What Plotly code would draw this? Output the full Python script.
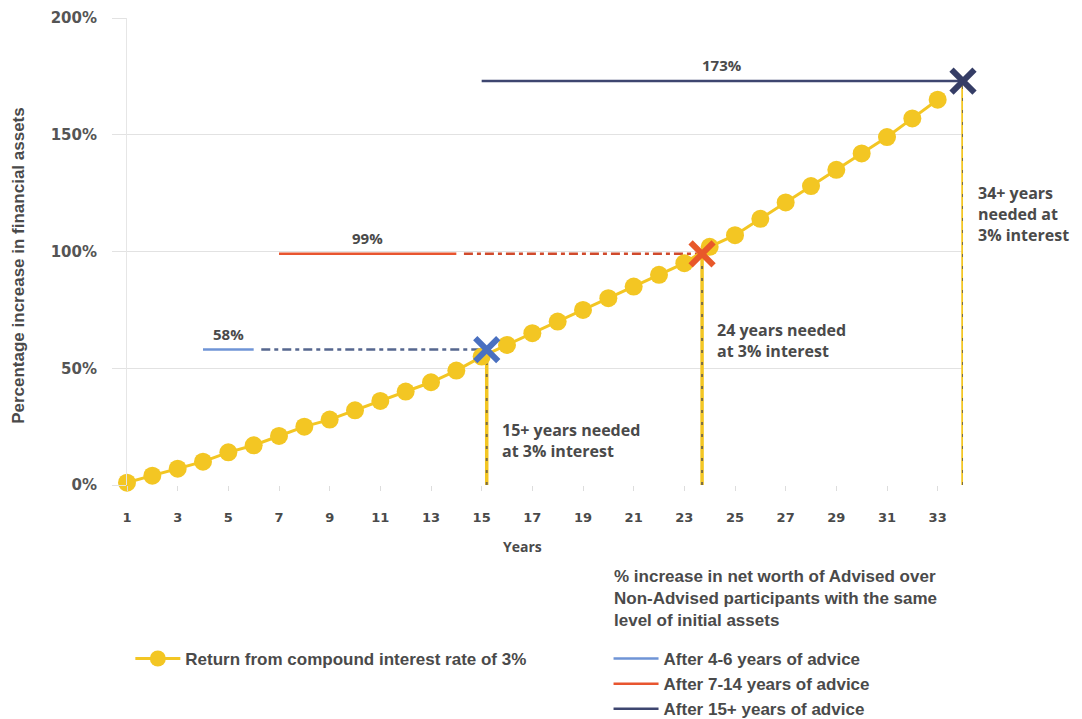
import plotly.graph_objects as go

# ---------------- data ----------------
years = list(range(1, 34))
compound_return = [1, 4, 7, 10, 14, 17, 21, 25, 28, 32, 36, 40, 44, 49, 55,
                   60, 65, 70, 75, 80, 85, 90, 95, 102, 107, 114, 121, 128,
                   135, 142, 149, 157, 165]

advice_labels = ["After 4-6 years of advice", "After 7-14 years of advice",
                 "After 15+ years of advice"]
advice_pct = [58, 99, 173]
advice_from = [4, 7, 15]
advice_to = [6, 14, 34]
years_needed_x = [15.2, 23.7, 34]
needed_text = ["15+ years needed<br>at 3% interest",
               "24 years needed<br>at 3% interest",
               "34+ years<br>needed at<br>3% interest"]
needed_text_y = [19, 62, 116]

x_ticks = list(range(1, 34, 2))
y_ticks = [0, 50, 100, 150, 200]
y_tick_text = [f"{v}%" for v in y_ticks]

legend_title = ("% increase in net worth of Advised over<br>"
                "Non-Advised participants with the same<br>"
                "level of initial assets")

# ---------------- styles ----------------
YELLOW = "#F3C623"
SOLID_COLORS = ["#6F94D6", "#E8552F", "#3E4670"]
DASH_COLORS = ["#56678F", "#D04A2C", "#3E4670"]
X_COLORS = ["#4A70C0", "#E8582A", "#353D66"]
TXT = "#4a4a4a"
NARROW = "Liberation Sans Narrow, Arial Narrow, sans-serif"
ROUND = "Open Sans, DejaVu Sans, sans-serif"

fig = go.Figure()

# vertical "years needed" dashed lines
for xv, pct in zip(years_needed_x, advice_pct):
    fig.add_trace(go.Scatter(x=[xv, xv], y=[0, pct], mode="lines",
                             line=dict(color=YELLOW, width=3.5),
                             showlegend=False, hoverinfo="skip", cliponaxis=False))
    fig.add_trace(go.Scatter(x=[xv, xv], y=[0, pct], mode="lines",
                             line=dict(color="#7a6c44", width=2, dash="3px,9px"),
                             showlegend=False, hoverinfo="skip", cliponaxis=False))

# horizontal advice lines (solid + dashed continuation)
for i in range(3):
    fig.add_trace(go.Scatter(x=[advice_from[i], advice_to[i]],
                             y=[advice_pct[i], advice_pct[i]], mode="lines",
                             line=dict(color=SOLID_COLORS[i], width=2.5),
                             name=advice_labels[i], legend="legend2",
                             cliponaxis=False))
    if years_needed_x[i] > advice_to[i]:
        fig.add_trace(go.Scatter(x=[advice_to[i] + 0.3, years_needed_x[i]],
                                 y=[advice_pct[i], advice_pct[i]], mode="lines",
                                 line=dict(color=DASH_COLORS[i], width=2.5,
                                           dash="9px,4px,4px,4px"),
                                 showlegend=False, hoverinfo="skip", cliponaxis=False))

# compound interest series
fig.add_trace(go.Scatter(x=years, y=compound_return, mode="lines+markers",
                         name="Return from compound interest rate of 3%",
                         line=dict(color=YELLOW, width=3),
                         marker=dict(color=YELLOW, size=18),
                         legend="legend", cliponaxis=False))

# X marks
for i in range(3):
    fig.add_trace(go.Scatter(x=[years_needed_x[i]], y=[advice_pct[i]], mode="markers",
                             marker=dict(symbol="x-thin", size=23,
                                         line=dict(color=X_COLORS[i], width=6)),
                             showlegend=False, hoverinfo="skip", cliponaxis=False))

annotations = []
for i in range(3):
    annotations.append(dict(x=(advice_from[i] + advice_to[i]) / 2, y=advice_pct[i],
                            text=f"{advice_pct[i]}%", showarrow=False, yshift=16,
                            font=dict(family=ROUND, size=15, color=TXT, weight=700)))
for i in range(3):
    annotations.append(dict(x=years_needed_x[i], y=needed_text_y[i], text=needed_text[i],
                            showarrow=False, xanchor="left", align="left", xshift=13,
                            font=dict(family=ROUND, size=16, color=TXT, weight=700)))
annotations.append(dict(xref="paper", yref="paper", x=-0.130, y=0.47, xanchor="center",
                        yanchor="middle",
                        text="Percentage increase in financial assets", textangle=-90,
                        showarrow=False,
                        font=dict(family=NARROW, size=17, color=TXT, weight=700)))
annotations.append(dict(xref="paper", yref="paper", x=0.473, y=-0.131, text="Years",
                        showarrow=False, yanchor="middle",
                        font=dict(family=ROUND, size=14, color=TXT, weight=700)))
annotations.append(dict(xref="paper", yref="paper", x=0.580, y=-0.242,
                        xanchor="left", yanchor="middle", align="left",
                        text=legend_title, showarrow=False,
                        font=dict(family=NARROW, size=17, color=TXT, weight=700)))

fig.update_layout(
    width=1082, height=719,
    margin=dict(l=127, r=119, t=18, b=234, autoexpand=False),
    paper_bgcolor="white", plot_bgcolor="white",
    annotations=annotations,
    xaxis=dict(range=[1, 34], tickvals=x_ticks, showgrid=False, zeroline=False,
               showline=False, ticks="outside", ticklen=5, tickcolor="#dddddd",
               tickfont=dict(family="DejaVu Sans", size=13, color=TXT, weight=700),
               ticklabelstandoff=15, automargin=False),
    yaxis=dict(range=[0, 200], tickvals=y_ticks, ticktext=y_tick_text,
               showgrid=True, gridcolor="#e2e2e2", zeroline=False,
               showline=True, linecolor="#e6e6e6", ticks="outside", ticklen=14,
               tickcolor="#e2e2e2",
               tickfont=dict(family="DejaVu Sans", size=15, color="#555555", weight=700),
               ticklabelstandoff=12, automargin=False),
    legend=dict(x=0.004, y=-0.334, xanchor="left", yanchor="top", itemwidth=45,
                font=dict(family=NARROW, size=17, color=TXT, weight=700),
                bgcolor="rgba(0,0,0,0)"),
    legend2=dict(x=0.576, y=-0.334, xanchor="left", yanchor="top", itemwidth=45,
                 font=dict(family=NARROW, size=17, color=TXT, weight=700),
                 tracegroupgap=0, bgcolor="rgba(0,0,0,0)"),
)

fig.write_html("out.html")
